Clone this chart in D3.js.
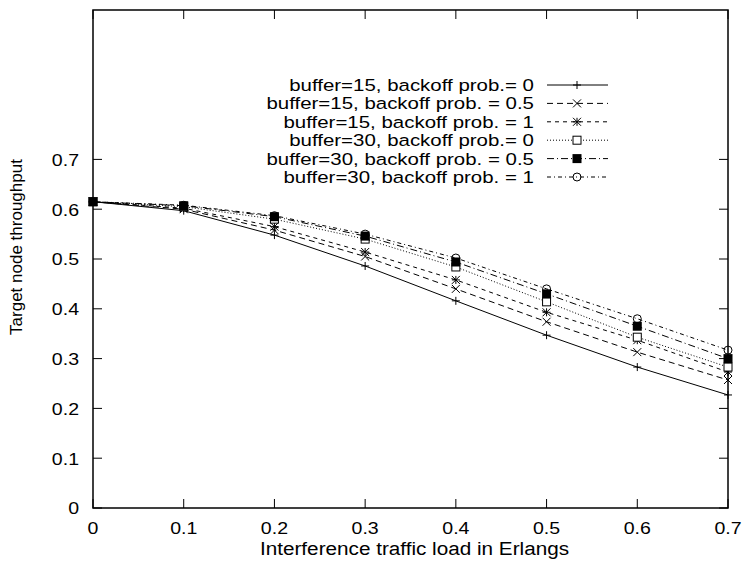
<!DOCTYPE html>
<html>
<head>
<meta charset="utf-8">
<script src="https://cdn.jsdelivr.net/npm/d3@7"></script>
<style>
  body { margin: 0; background: #fff; }
  text { font-family: "Liberation Sans", Arial, sans-serif; fill: #000; }
</style>
</head>
<body>
<svg id="chart" width="743" height="562"></svg>
<script>
// x values (Erlangs)
const loads = [0, 0.1, 0.2, 0.3, 0.4, 0.5, 0.6, 0.7];
const xTicks = [0, 0.1, 0.2, 0.3, 0.4, 0.5, 0.6, 0.7];
const yTicks = [0, 0.1, 0.2, 0.3, 0.4, 0.5, 0.6, 0.7];

const seriesNames = [
  "buffer=15, backoff prob.= 0",
  "buffer=15, backoff prob. = 0.5",
  "buffer=15, backoff prob. = 1",
  "buffer=30, backoff prob.= 0",
  "buffer=30, backoff prob. = 0.5",
  "buffer=30, backoff prob. = 1"
];

const buf15bp0   = [0.615, 0.597, 0.548, 0.486, 0.416, 0.347, 0.283, 0.227];
const buf15bp05  = [0.615, 0.600, 0.558, 0.505, 0.440, 0.374, 0.313, 0.257];
const buf15bp1   = [0.615, 0.602, 0.565, 0.514, 0.458, 0.393, 0.337, 0.273];
const buf30bp0   = [0.615, 0.605, 0.580, 0.540, 0.484, 0.414, 0.343, 0.283];
const buf30bp05  = [0.615, 0.607, 0.585, 0.546, 0.494, 0.430, 0.365, 0.300];
const buf30bp1   = [0.615, 0.608, 0.587, 0.550, 0.502, 0.440, 0.380, 0.317];

const seriesValues = [buf15bp0, buf15bp05, buf15bp1, buf30bp0, buf30bp05, buf30bp1];

// line styles / markers per series
const dashes = ["none", "6,4", "4,4", "1,2", "7,3,1,3", "4,3,1,3"];
const markers = ["plus", "cross", "star", "box", "boxfill", "circle"];

const margins = { left: 93, right: 15, top: 10, bottom: 54 };
const width = 743, height = 562;

const svg = d3.select("#chart");

const x = d3.scaleLinear().domain([0, 0.7]).range([margins.left, width - margins.right]);
const y = d3.scaleLinear().domain([0, 1]).range([height - margins.bottom, margins.top]);

const tickLen = 9;

// text that is a bit wider than the font, like the original postscript output
function wideText(g, tx, ty, str, size, sx, anchor) {
  return g.append("text")
    .attr("transform", `translate(${tx},${ty}) scale(${sx},1)`)
    .attr("text-anchor", anchor)
    .attr("font-size", size + "px")
    .text(str);
}

// frame
svg.append("rect")
  .attr("x", x(0)).attr("y", y(1))
  .attr("width", x(0.7) - x(0)).attr("height", y(0) - y(1))
  .attr("fill", "none").attr("stroke", "#000").attr("stroke-width", 1.5);

// x ticks (bottom + top mirrored, inward)
const xt = svg.append("g");
xTicks.forEach((t) => {
  xt.append("line").attr("x1", x(t)).attr("x2", x(t))
    .attr("y1", y(0)).attr("y2", y(0) - tickLen).attr("stroke", "#000");
  xt.append("line").attr("x1", x(t)).attr("x2", x(t))
    .attr("y1", y(1)).attr("y2", y(1) + tickLen).attr("stroke", "#000");
  wideText(xt, x(t), y(0) + 26, t, 17, 1.15, "middle");
});

// y ticks (left + right mirrored)
const yt = svg.append("g");
yTicks.forEach((t) => {
  yt.append("line").attr("x1", x(0)).attr("x2", x(0) + tickLen)
    .attr("y1", y(t)).attr("y2", y(t)).attr("stroke", "#000");
  yt.append("line").attr("x1", x(0.7)).attr("x2", x(0.7) - tickLen)
    .attr("y1", y(t)).attr("y2", y(t)).attr("stroke", "#000");
  wideText(yt, x(0) - 14, y(t) + 6.3, t, 17, 1.15, "end");
});

// axis labels
wideText(svg, (x(0) + x(0.7)) / 2 + 4, 555, "Interference traffic load in Erlangs", 19, 1.09, "middle");

svg.append("text")
  .attr("transform", `translate(22, ${(y(0) + y(1)) / 2 - 12}) rotate(-90)`)
  .attr("text-anchor", "middle").attr("font-size", "17px")
  .text("Target node throughput");

function drawMarker(g, type, cx, cy) {
  const s = 4;
  if (type === "plus") {
    g.append("path").attr("d", `M${cx - s},${cy}H${cx + s}M${cx},${cy - s}V${cy + s}`)
      .attr("stroke", "#000").attr("fill", "none");
  } else if (type === "cross") {
    g.append("path").attr("d", `M${cx - s},${cy - s}L${cx + s},${cy + s}M${cx - s},${cy + s}L${cx + s},${cy - s}`)
      .attr("stroke", "#000").attr("fill", "none");
  } else if (type === "star") {
    g.append("path").attr("d", `M${cx - s},${cy}H${cx + s}M${cx},${cy - s}V${cy + s}M${cx - s},${cy - s}L${cx + s},${cy + s}M${cx - s},${cy + s}L${cx + s},${cy - s}`)
      .attr("stroke", "#000").attr("fill", "none");
  } else if (type === "box") {
    g.append("rect").attr("x", cx - s).attr("y", cy - s).attr("width", 2 * s).attr("height", 2 * s)
      .attr("stroke", "#000").attr("fill", "#fff");
  } else if (type === "boxfill") {
    g.append("rect").attr("x", cx - s - 0.5).attr("y", cy - s - 0.5).attr("width", 2 * s + 1).attr("height", 2 * s + 1)
      .attr("fill", "#000");
  } else if (type === "circle") {
    g.append("circle").attr("cx", cx).attr("cy", cy).attr("r", s)
      .attr("stroke", "#000").attr("fill", "none");
  }
}

const line = d3.line().x((d) => x(d[0])).y((d) => y(d[1]));

// curves
seriesValues.forEach((vals, i) => {
  const pts = loads.map((l, j) => [l, vals[j]]);
  const g = svg.append("g");
  g.append("path").datum(pts).attr("d", line)
    .attr("fill", "none").attr("stroke", "#000").attr("stroke-width", 1)
    .attr("stroke-dasharray", dashes[i]);
  pts.forEach((p) => drawMarker(g, markers[i], x(p[0]), y(p[1])));
});

// legend
const legend = svg.append("g");
const rowY0 = 85, rowH = 18.4;
seriesNames.forEach((name, i) => {
  const ry = rowY0 + i * rowH;
  wideText(legend, 534, ry + 6, name, 16.5, 1.24, "end");
  legend.append("line").attr("x1", 547).attr("x2", 608).attr("y1", ry).attr("y2", ry)
    .attr("stroke", "#000").attr("stroke-dasharray", dashes[i]);
  drawMarker(legend, markers[i], 577, ry);
});
</script>
</body>
</html>
